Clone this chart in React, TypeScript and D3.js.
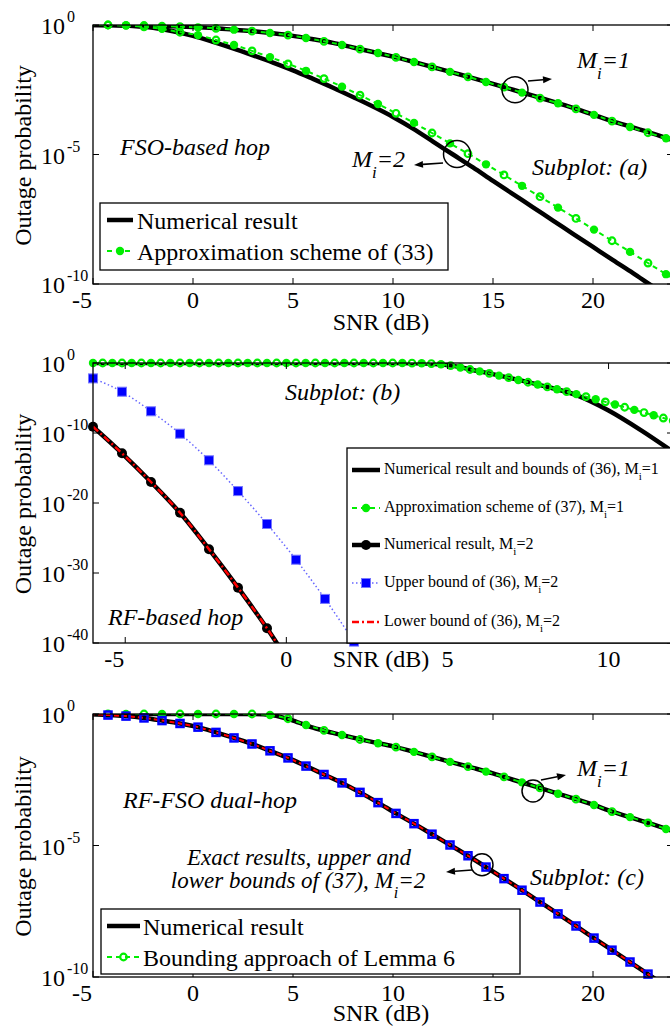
import * as d3 from "d3";

const FONT = '"Liberation Serif", "DejaVu Serif", "Times New Roman", serif';
const GREEN = "#00ee00";

// ---------- subplot (a): FSO-based hop (values are log10 of outage probability) ----------
const snrA = [-5, -4, -3, -2, -1, 0, 1, 2, 3, 4, 5, 6, 7, 8, 9, 10, 11, 12, 13, 14, 15, 16, 17, 18, 19, 20, 21, 22, 23, 24];
const fsoNumM1 = [0, 0, -0.01, -0.03, -0.05, -0.08, -0.12, -0.18, -0.24, -0.32, -0.42, -0.55, -0.69, -0.87, -1.04, -1.22, -1.42, -1.63, -1.84, -2.05, -2.27, -2.5, -2.73, -2.96, -3.2, -3.46, -3.72, -3.95, -4.19, -4.45];
const fsoNumM2 = [0, -0.01, -0.04, -0.11, -0.24, -0.42, -0.65, -0.9, -1.17, -1.45, -1.75, -2.08, -2.42, -2.78, -3.15, -3.55, -4.0, -4.5, -5.0, -5.5, -6.02, -6.53, -7.04, -7.55, -8.06, -8.57, -9.08, -9.58, -10.1, -10.6];
// marker positions of the approximation / bounding curves in (a) and (c)
const snrMk = [-5.15, -4.25, -3.35, -2.45, -1.55, -0.65, 0.25, 1.15, 2.05, 2.95, 3.85, 4.75, 5.65, 6.55, 7.45, 8.35, 9.25, 10.15, 11.05, 11.95, 12.85, 13.75, 14.65, 15.55, 16.45, 17.35, 18.25, 19.15, 20.05, 20.95, 21.85, 22.75, 23.65, 24.55];
const fsoApproxM1 = [0, 0, -0.01, -0.02, -0.04, -0.06, -0.09, -0.13, -0.18, -0.24, -0.31, -0.39, -0.5, -0.63, -0.77, -0.93, -1.08, -1.25, -1.43, -1.62, -1.81, -2.0, -2.2, -2.4, -2.61, -2.82, -3.02, -3.24, -3.47, -3.71, -3.94, -4.16, -4.37, -4.6];
const fsoApproxM2 = [0, 0, -0.02, -0.07, -0.15, -0.28, -0.39, -0.58, -0.77, -1.0, -1.24, -1.5, -1.77, -2.07, -2.38, -2.71, -3.05, -3.41, -3.78, -4.17, -4.57, -4.97, -5.38, -5.79, -6.21, -6.63, -7.05, -7.47, -7.9, -8.33, -8.76, -9.19, -9.62, -10.05];

// ---------- subplot (b): RF-based hop ----------
const snrB = [-6, -5, -4, -3, -2, -1, 0, 1, 2, 3, 4, 5, 6, 7, 8, 9, 10, 11, 12];
const rfNumM1 = [0, 0, 0, 0, 0, 0, 0, 0, 0, 0, -0.03, -0.3, -1.2, -2.2, -3.3, -4.6, -6.8, -9.6, -12.7];
const snrMkB = [-6.0, -5.7, -5.4, -5.1, -4.8, -4.5, -4.2, -3.9, -3.6, -3.3, -3.0, -2.7, -2.4, -2.1, -1.8, -1.5, -1.2, -0.9, -0.6, -0.3, 0, 0.3, 0.6, 0.9, 1.2, 1.5, 1.8, 2.1, 2.4, 2.7, 3.0, 3.3, 3.6, 3.9, 4.2, 4.5, 4.8, 5.1, 5.4, 5.7, 6.0, 6.3, 6.6, 6.9, 7.2, 7.5, 7.8, 8.1, 8.4, 8.7, 9.0, 9.3, 9.6, 9.9, 10.2, 10.5, 10.8, 11.1, 11.4, 11.7, 12.0];
const rfApproxM1 = [0, 0, 0, 0, 0, 0, 0, 0, 0, 0, 0, 0, 0, 0, 0, 0, 0, 0, 0, 0, 0, 0, 0, 0, 0, 0, 0, 0, 0, 0,
  0, 0, -0.005, -0.01, -0.03, -0.08, -0.18, -0.38, -0.65, -0.93, -1.2, -1.48, -1.8, -2.1, -2.42, -2.75, -3.08, -3.42, -3.76, -4.1, -4.45, -4.8, -5.17, -5.55, -5.93, -6.32, -6.7, -7.08, -7.47, -7.86, -8.25];
const snrB2 = [-6.0, -5.1, -4.2, -3.3, -2.4, -1.5, -0.6, 0.3];
const rfNumM2 = [-9.1, -12.9, -17.0, -21.4, -26.6, -32.1, -37.9, -44.3];
const rfLowerM2 = [-9.1, -12.9, -17.0, -21.4, -26.6, -32.1, -37.9, -44.3];
const snrB3 = [-6.0, -5.1, -4.2, -3.3, -2.4, -1.5, -0.6, 0.3, 1.2, 2.1, 3.0];
const rfUpperM2 = [-2.2, -4.1, -6.9, -10.1, -13.9, -18.3, -23.0, -28.1, -33.7, -39.8, -46.0];

// ---------- subplot (c): RF-FSO dual-hop ----------
const snrC = snrA;
const dualNumM1 = [0, 0, 0, 0, 0, 0, 0, 0, 0, -0.05, -0.25, -0.52, -0.72, -0.9, -1.07, -1.23, -1.43, -1.64, -1.85, -2.05, -2.26, -2.5, -2.73, -2.97, -3.2, -3.45, -3.72, -3.96, -4.2, -4.45];
const dualBoundM1 = [0, 0, 0, 0, 0, 0, 0, 0, 0, 0, -0.04, -0.18, -0.42, -0.62, -0.8, -0.97, -1.11, -1.26, -1.44, -1.63, -1.82, -2.0, -2.19, -2.39, -2.6, -2.81, -3.03, -3.24, -3.46, -3.71, -3.92, -4.14, -4.37, -4.6];
const dualExactM2 = [0, -0.04, -0.08, -0.15, -0.25, -0.36, -0.5, -0.7, -0.91, -1.14, -1.4, -1.67, -1.98, -2.3, -2.62, -2.98, -3.37, -3.78, -4.17, -4.57, -4.98, -5.39, -5.82, -6.26, -6.7, -7.15, -7.6, -8.06, -8.52, -8.98, -9.43, -9.89, -10.35, -10.8];

const xTicksAC = [-5, 0, 5, 10, 15, 20];
const yTicksAC = [0, -5, -10];
const xTicksB = [-5, 0, 5, 10];
const yTicksB = [0, -10, -20, -30, -40];

type Series = {
  xs: number[];
  ys: number[];
  color: string;
  width: number;
  dash?: string;
  marker?: "greenAlt" | "blackDot" | "blueSquare" | "blueHollow";
};

type PanelCfg = {
  id: string;
  xDomain: [number, number];
  yMin: number;
  top: number;
  bottom: number;
  xTicks: number[];
  yTicks: number[];
  xLabelY: number;
};

const LEFT = 93;
const RIGHT = 673;

function scales(p: PanelCfg) {
  const x = d3.scaleLinear().domain(p.xDomain).range([LEFT, RIGHT]);
  const y = d3.scaleLog().domain([10 ** p.yMin, 1]).range([p.bottom, p.top]);
  return { x, y };
}

function Markers({ s, x, y, p }: { s: Series; x: any; y: any; p: PanelCfg }) {
  const pts = s.xs
    .map((v, i) => ({ v, e: s.ys[i], i }))
    .filter((d) => d.v >= p.xDomain[0] - 0.01 && d.v <= p.xDomain[1] + 0.3 && d.e >= p.yMin - 0.05);
  return (
    <g>
      {pts.map((d) => {
        const cx = x(d.v);
        const cy = y(10 ** d.e);
        if (s.marker === "greenAlt") {
          return d.i % 2 === 0 ? (
            <circle key={d.i} cx={cx} cy={cy} r={4.2} fill={GREEN} />
          ) : (
            <circle key={d.i} cx={cx} cy={cy} r={3.3} fill="none" stroke={GREEN} strokeWidth={2.2} />
          );
        }
        if (s.marker === "blackDot") return <circle key={d.i} cx={cx} cy={cy} r={5} fill="#000" />;
        if (s.marker === "blueSquare")
          return <rect key={d.i} x={cx - 4.5} y={cy - 4.5} width={9} height={9} fill="#0000ff" stroke="#7777ff" strokeWidth={1} />;
        if (s.marker === "blueHollow")
          return <rect key={d.i} x={cx - 3.5} y={cy - 3.5} width={7} height={7} fill="none" stroke="#0000ff" strokeWidth={2.5} />;
        return null;
      })}
    </g>
  );
}

function Panel({ p, series }: { p: PanelCfg; series: Series[] }) {
  const { x, y } = scales(p);
  const clipId = `clip-${p.id}`;
  return (
    <g>
      <defs>
        <clipPath id={clipId}>
          <rect x={LEFT} y={p.top} width={RIGHT - LEFT} height={p.bottom - p.top} />
        </clipPath>
      </defs>
      {series.map((s, k) => {
        const gen = d3
          .line<number>()
          .x((_, i) => x(s.xs[i]))
          .y((e) => y(10 ** e))
          .curve(d3.curveMonotoneX);
        return (
          <g key={k}>
            <path
              d={gen(s.ys) || ""}
              fill="none"
              stroke={s.color}
              strokeWidth={s.width}
              strokeDasharray={s.dash}
              clipPath={`url(#${clipId})`}
            />
            {s.marker && <Markers s={s} x={x} y={y} p={p} />}
          </g>
        );
      })}
      {/* frame and ticks */}
      <rect x={LEFT} y={p.top} width={RIGHT - LEFT} height={p.bottom - p.top} fill="none" stroke="#000" strokeWidth={1.3} />
      {p.xTicks.map((t) => (
        <g key={`x${t}`}>
          <line x1={x(t)} x2={x(t)} y1={p.bottom} y2={p.bottom - 6} stroke="#000" strokeWidth={1} />
          <line x1={x(t)} x2={x(t)} y1={p.top} y2={p.top + 6} stroke="#000" strokeWidth={1} />
          <text
            x={t < 0 ? x(t) - 1 : x(t)}
            y={p.bottom + 24}
            textAnchor={t < 0 ? "end" : "middle"}
            fontSize={24}
          >
            {t}
          </text>
        </g>
      ))}
      {p.yTicks.map((t) => (
        <g key={`y${t}`}>
          <line x1={LEFT} x2={LEFT + 6} y1={y(10 ** t)} y2={y(10 ** t)} stroke="#000" strokeWidth={1} />
          <line x1={RIGHT - 6} x2={RIGHT} y1={y(10 ** t)} y2={y(10 ** t)} stroke="#000" strokeWidth={1} />
          <text x={65} y={y(10 ** t) + 9} textAnchor="end" fontSize={24}>
            10
          </text>
          <text x={67} y={y(10 ** t) - 3} fontSize={16}>
            {t}
          </text>
        </g>
      ))}
      <text x={(LEFT + RIGHT) / 2 - 2} y={p.xLabelY} textAnchor="middle" fontSize={24}>
        SNR (dB)
      </text>
      <text
        transform={`translate(31,${(p.top + p.bottom) / 2 + 1}) rotate(-90)`}
        textAnchor="middle"
        fontSize={24}
      >
        Outage probability
      </text>
    </g>
  );
}

// a small arrow from (x1,y1) to (x2,y2) with a filled head at the end
function Arrow({ x1, y1, x2, y2 }: { x1: number; y1: number; x2: number; y2: number }) {
  const a = Math.atan2(y2 - y1, x2 - x1);
  const L = 9;
  const W = 3.5;
  const bx = x2 - L * Math.cos(a);
  const by = y2 - L * Math.sin(a);
  const pts = [
    [x2, y2],
    [bx + W * Math.sin(a), by - W * Math.cos(a)],
    [bx - W * Math.sin(a), by + W * Math.cos(a)],
  ];
  return (
    <g>
      <line x1={x1} y1={y1} x2={bx} y2={by} stroke="#000" strokeWidth={1.6} />
      <polygon points={pts.map((q) => q.join(",")).join(" ")} fill="#000" />
    </g>
  );
}

function Mi({ x, y, n, size = 24, sub = 17, dy = 11 }: any) {
  return (
    <text x={x} y={y} fontSize={size} fontStyle="italic">
      M
      <tspan dy={dy} fontSize={sub}>
        i
      </tspan>
      <tspan dy={-dy}>={n}</tspan>
    </text>
  );
}

// legend row of subplot (b): the text with a subscripted i
function LegRow({ y, label, n }: { y: number; label: string; n: number }) {
  return (
    <text x={384} y={y + 3.5} fontSize={16}>
      {label}M<tspan dy={6} fontSize={11}>i</tspan>
      <tspan dy={-6}>={n}</tspan>
    </text>
  );
}

const panelA: PanelCfg = { id: "a", xDomain: [-5, 24], yMin: -10, top: 25, bottom: 284, xTicks: xTicksAC, yTicks: yTicksAC, xLabelY: 330 };
const panelB: PanelCfg = { id: "b", xDomain: [-6, 12], yMin: -40, top: 363, bottom: 643, xTicks: xTicksB, yTicks: yTicksB, xLabelY: 667 };
const panelC: PanelCfg = { id: "c", xDomain: [-5, 24], yMin: -10, top: 714, bottom: 977, xTicks: xTicksAC, yTicks: yTicksAC, xLabelY: 1021 };

export default function App() {
  const sA = scales(panelA);
  const sC = scales(panelC);

  const seriesA: Series[] = [
    { xs: snrA, ys: fsoNumM1, color: "#000", width: 4.5 },
    { xs: snrA, ys: fsoNumM2, color: "#000", width: 4.5 },
    { xs: snrMk, ys: fsoApproxM1, color: GREEN, width: 2, dash: "5 4", marker: "greenAlt" },
    { xs: snrMk, ys: fsoApproxM2, color: GREEN, width: 2, dash: "5 4", marker: "greenAlt" },
  ];
  const seriesB: Series[] = [
    { xs: snrB, ys: rfNumM1, color: "#000", width: 4.5 },
    { xs: snrMkB, ys: rfApproxM1, color: GREEN, width: 2, dash: "5 4", marker: "greenAlt" },
    { xs: snrB3, ys: rfUpperM2, color: "#6666ff", width: 1.5, dash: "1.5 2.5", marker: "blueSquare" },
    { xs: snrB2, ys: rfNumM2, color: "#000", width: 4.5, marker: "blackDot" },
    { xs: snrB2, ys: rfLowerM2, color: "#ff0000", width: 2.5, dash: "7 3 2 3" },
  ];
  const seriesC: Series[] = [
    { xs: snrC, ys: dualNumM1, color: "#000", width: 4.5 },
    { xs: snrMk, ys: dualBoundM1, color: GREEN, width: 2, dash: "5 4", marker: "greenAlt" },
    { xs: snrMk, ys: dualExactM2, color: "#000", width: 4.5 },
    { xs: snrMk, ys: dualExactM2, color: "#ff0000", width: 2, dash: "5 3", marker: "blueHollow" },
  ];

  return (
    <svg
      width={670}
      height={1026}
      style={{ position: "absolute", left: 0, top: 0, background: "#fff", fontFamily: FONT }}
    >
      <rect width={670} height={1026} fill="#fff" />

      {/* ---- (a) ---- */}
      <Panel p={panelA} series={seriesA} />
      <text x={120} y={155} fontSize={24} fontStyle="italic">FSO-based hop</text>
      <text x={532} y={175} fontSize={24} fontStyle="italic">Subplot: (a)</text>
      <Mi x={577} y={68} n={1} />
      <Mi x={352} y={167} n={2} />
      <circle cx={sA.x(16.1)} cy={sA.y(10 ** -2.5)} r={13} fill="none" stroke="#000" strokeWidth={1.5} />
      <Arrow x1={528} y1={81} x2={552} y2={79} />
      <circle cx={sA.x(13.2)} cy={sA.y(10 ** -4.98)} r={13.5} fill="none" stroke="#000" strokeWidth={1.5} />
      <Arrow x1={443} y1={163} x2={414} y2={165} />
      <g>
        <rect x={100} y={203} width={348} height={67} fill="#fff" stroke="#000" strokeWidth={1.3} />
        <line x1={107} x2={133} y1={220} y2={220} stroke="#000" strokeWidth={4.5} />
        <text x={137} y={229} fontSize={24}>Numerical result</text>
        <line x1={107} x2={133} y1={251} y2={251} stroke={GREEN} strokeWidth={2} strokeDasharray="5 4" />
        <circle cx={120} cy={251} r={4.2} fill={GREEN} />
        <text x={137} y={260} fontSize={24}>Approximation scheme of (33)</text>
      </g>

      {/* ---- (b) ---- */}
      <Panel p={panelB} series={seriesB} />
      <text x={285} y={400} fontSize={24} fontStyle="italic">Subplot: (b)</text>
      <text x={108} y={625} fontSize={24} fontStyle="italic">RF-based hop</text>
      <g>
        <rect x={347} y={448} width={340} height={195} fill="#fff" stroke="#000" strokeWidth={1.3} />
        <line x1={352} x2={380} y1={470} y2={470} stroke="#000" strokeWidth={4.5} />
        <LegRow y={470} label="Numerical result and bounds of (36), " n={1} />
        <line x1={352} x2={380} y1={508} y2={508} stroke={GREEN} strokeWidth={2} strokeDasharray="5 4" />
        <circle cx={366} cy={508} r={4.2} fill={GREEN} />
        <LegRow y={508} label="Approximation scheme of (37), " n={1} />
        <line x1={352} x2={380} y1={545} y2={545} stroke="#000" strokeWidth={4.5} />
        <circle cx={366} cy={545} r={5} fill="#000" />
        <LegRow y={545} label="Numerical result, " n={2} />
        <line x1={352} x2={380} y1={583} y2={583} stroke="#6666ff" strokeWidth={1.5} strokeDasharray="1.5 2.5" />
        <rect x={361.5} y={578.5} width={9} height={9} fill="#0000ff" stroke="#7777ff" />
        <LegRow y={583} label="Upper bound of (36), " n={2} />
        <line x1={352} x2={380} y1={622} y2={622} stroke="#ff0000" strokeWidth={2.5} strokeDasharray="7 3 2 3" />
        <LegRow y={622} label="Lower bound of (36), " n={2} />
      </g>

      {/* ---- (c) ---- */}
      <Panel p={panelC} series={seriesC} />
      <text x={123} y={808} fontSize={24} fontStyle="italic">RF-FSO dual-hop</text>
      <text x={530} y={885} fontSize={24} fontStyle="italic">Subplot: (c)</text>
      <text x={299} y={865} fontSize={23} fontStyle="italic" textAnchor="middle">Exact results, upper and</text>
      <text x={298} y={888} fontSize={23} fontStyle="italic" textAnchor="middle">
        lower bounds of (37), M<tspan dy={10} fontSize={16}>i</tspan>
        <tspan dy={-10}>=2</tspan>
      </text>
      <Mi x={577} y={776} n={1} />
      <circle cx={sC.x(17.0)} cy={sC.y(10 ** -2.93)} r={11} fill="none" stroke="#000" strokeWidth={1.5} />
      <Arrow x1={541} y1={780} x2={566} y2={775} />
      <circle cx={sC.x(14.45)} cy={sC.y(10 ** -5.73)} r={11} fill="none" stroke="#000" strokeWidth={1.5} />
      <Arrow x1={472} y1={870} x2={446} y2={872} />
      <g>
        <rect x={101} y={909} width={419} height={65} fill="#fff" stroke="#000" strokeWidth={1.3} />
        <line x1={107} x2={140} y1={926} y2={926} stroke="#000" strokeWidth={4.5} />
        <text x={143} y={935} fontSize={24}>Numerical result</text>
        <line x1={107} x2={140} y1={957} y2={957} stroke={GREEN} strokeWidth={2} strokeDasharray="5 4" />
        <circle cx={123.5} cy={957} r={3.3} fill="none" stroke={GREEN} strokeWidth={2.2} />
        <text x={143} y={966} fontSize={24}>Bounding approach of Lemma 6</text>
      </g>
    </svg>
  );
}
